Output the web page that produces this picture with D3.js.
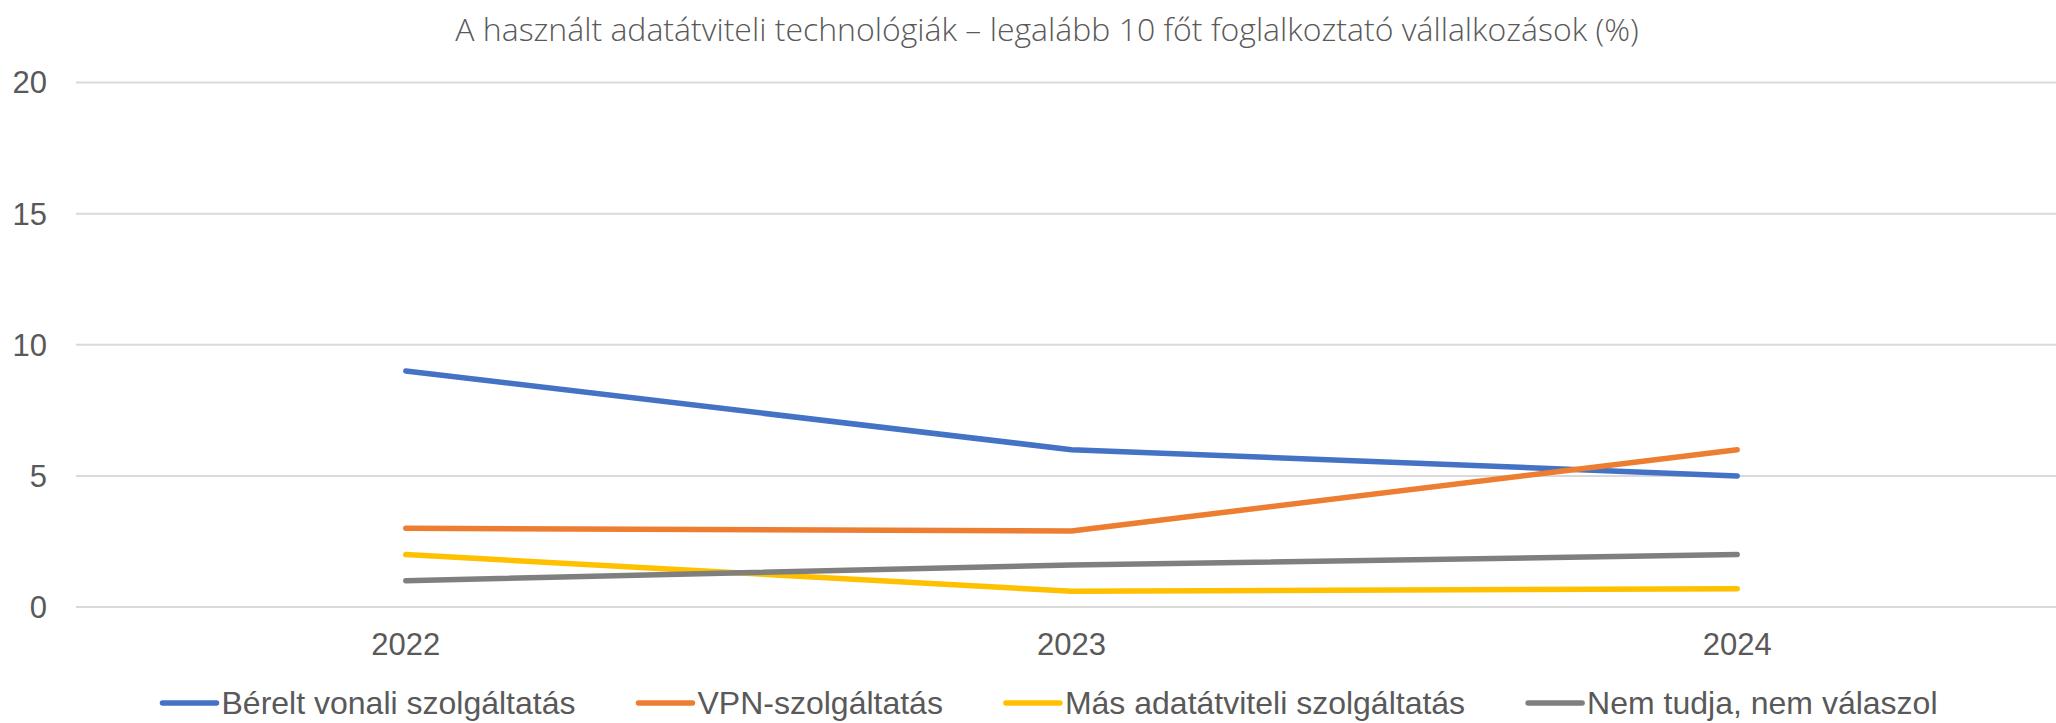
<!DOCTYPE html>
<html>
<head>
<meta charset="utf-8">
<script src="https://cdn.jsdelivr.net/npm/d3@7"></script>
<style>
  body { margin: 0; background: #ffffff; }
  svg { display: block; }
</style>
</head>
<body>
<div id="chart"></div>
<script>
const years = ["2022", "2023", "2024"];
const seriesNames = ["Bérelt vonali szolgáltatás", "VPN-szolgáltatás", "Más adatátviteli szolgáltatás", "Nem tudja, nem válaszol"];
const berelt = [9, 6, 5];
const vpn = [3, 2.9, 6];
const mas = [2, 0.6, 0.7];
const nemTudja = [1, 1.6, 2];
const yTicks = [0, 5, 10, 15, 20];
const colors = ["#4472C4", "#ED7D31", "#FFC000", "#7F7F7F"];
const title = "A használt adatátviteli technológiák – legalább 10 főt foglalkoztató vállalkozások (%)";

const width = 2056, height = 723;
const svg = d3.select("#chart").append("svg")
    .attr("width", width)
    .attr("height", height);

const x = d3.scaleBand().domain(years).range([73, 2070]).padding(0);
const y = d3.scaleLinear().domain([0, 20]).range([607, 82.6]);

// title
svg.append("text")
    .attr("x", 1047).attr("y", 41)
    .attr("text-anchor", "middle")
    .style("font-family", "'Open Sans', sans-serif")
    .style("font-weight", 300)
    .style("font-size", "32px")
    .style("fill", "#595959")
    .text(title);

// grid
svg.append("g")
    .selectAll("line")
    .data(yTicks)
    .join("line")
    .attr("x1", 76).attr("x2", 2070)
    .attr("y1", d => y(d)).attr("y2", d => y(d))
    .attr("stroke", "#d9d9d9")
    .attr("stroke-width", 2);

// y labels
svg.append("g")
    .selectAll("text")
    .data(yTicks)
    .join("text")
    .attr("x", 47).attr("y", d => y(d))
    .attr("dy", "0.35em")
    .attr("text-anchor", "end")
    .style("font-family", "'Liberation Sans', Arial, sans-serif")
    .style("font-size", "31px")
    .style("fill", "#595959")
    .text(d => d);

// x labels
const xAxis = svg.append("g")
    .attr("transform", "translate(0,607)")
    .call(d3.axisBottom(x).tickSize(0).tickPadding(0));
xAxis.select(".domain").remove();
xAxis.selectAll("text")
    .attr("y", 48)
    .attr("dy", 0)
    .style("font-family", "'Liberation Sans', Arial, sans-serif")
    .style("font-size", "31px")
    .style("fill", "#595959");

// lines
const allSeries = [berelt, vpn, mas, nemTudja];
const line = d3.line()
    .x((d, i) => x(years[i]) + x.bandwidth() / 2)
    .y(d => y(d));

svg.append("g")
    .selectAll("path")
    .data(allSeries)
    .join("path")
    .attr("d", d => line(d))
    .attr("fill", "none")
    .attr("stroke", (d, i) => colors[i])
    .attr("stroke-width", 5.5)
    .attr("stroke-linecap", "round")
    .attr("stroke-linejoin", "round");

// legend
const legend = svg.append("g");
const items = legend.selectAll("g")
    .data(seriesNames)
    .join("g");
items.append("line")
    .attr("x1", 0).attr("x2", 54)
    .attr("y1", 0).attr("y2", 0)
    .attr("stroke", (d, i) => colors[i])
    .attr("stroke-width", 5.5)
    .attr("stroke-linecap", "round");
items.append("text")
    .attr("x", 59).attr("y", 0)
    .attr("dy", "0.35em")
    .style("font-family", "'Liberation Sans', Arial, sans-serif")
    .style("font-size", "32px")
    .style("fill", "#595959")
    .text(d => d);

let pos = 0;
const offsets = [];
items.each(function () {
    offsets.push(pos);
    const w = d3.select(this).select("text").node().getComputedTextLength();
    pos += 59 + w + 63;
});
const total = pos - 63;
const start = 1050 - total / 2;
items.attr("transform", (d, i) => `translate(${start + offsets[i]},703)`);
</script>
</body>
</html>
